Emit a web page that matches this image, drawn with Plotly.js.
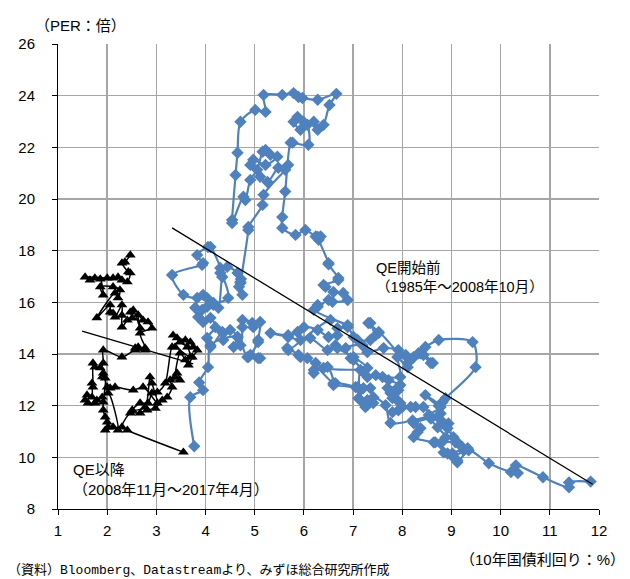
<!DOCTYPE html>
<html>
<head>
<meta charset="utf-8">
<script src="https://cdn.plot.ly/plotly-3.0.1.min.js"></script>
<style>html,body{margin:0;padding:0;background:#fff;}#chart{width:630px;height:579px;}</style>
</head>
<body>
<div id="chart"></div>
<script>
// QE開始前 (1985年～2008年10月): 10年国債利回り(%) and PER(倍)
var preQEYield = [
11.83,11.39,11.39,10.86,10.31,10.35,10.21,9.76,9.35,9.12,9.04,9.25,9.08,8.67,8.88,8.72,8.58,8.78,8.21,7.76,7.66,7.41,7.29,7.25,7.11,7.15,7.05,6.64,6.60,7.09,7.21,7.35,7.41,7.29,7.15,
7.15,7.21,7.29,7.01,6.95,6.85,7.19,7.29,7.62,7.92,8.07,8.21,8.33,8.47,8.74,9.43,9.49,8.88,
8.82,8.74,8.47,8.78,8.54,8.72,8.84,8.94,8.92,9.04,9.12,9.22,9.33,9.02,9.12,8.92,8.84,8.78,8.64,8.23,8.31,8.37,8.23,8.58,8.43,8.27,8.00,8.17,7.92,7.80,7.96,7.90,7.80,7.92,7.76,7.82,7.70,7.92,7.96,7.72,
7.60,7.46,7.96,7.90,8.11,8.23,8.37,8.58,8.62,8.43,8.13,7.52,7.46,7.35,7.31,7.52,7.35,7.09,7.01,6.89,6.68,6.68,6.50,6.28,6.00,5.87,5.68,5.32,5.68,5.93,6.13,6.48,6.64,6.68,7.01,7.29,
6.40,6.24,6.20,6.20,6.48,6.60,6.07,5.93,5.89,5.66,5.68,
6.54,6.89,6.20,6.28,6.28,6.50,6.58,6.89,6.80,6.60,6.44,6.40,6.70,6.70,6.50,6.50,6.30,6.28,6.34,6.24,6.03,5.83,5.56,5.56,5.62,5.73,
5.77,6.09,6.07,5.87,5.79,5.93,5.99,6.20,6.28,6.40,6.52,6.66,6.28,5.97,5.89,5.79,5.56,5.18,5.22,5.01,4.71,4.65,4.61,4.54,4.54,
4.77,4.81,4.91,5.05,5.16,5.22,5.32,5.46,5.22,4.97,4.91,5.11,5.26,5.48,5.68,5.62,5.18,5.16,4.87,4.87,
4.71,4.72,4.68,4.75,4.71,4.65,4.44,4.30,4.30,4.10,4.05,3.83,3.95,3.93,3.32,3.55,3.83,3.95,4.03,4.16,4.46,4.34,4.26,4.16,4.03,3.93,3.79,3.85,3.95,4.10,4.20,4.03,4.10,
4.34,4.36,4.36,4.50,4.65,4.57,4.71,4.75,4.75,4.95,4.97,5.11,5.07,5.07,4.91,4.87,5.07,5.11,4.85,4.65,
4.10,4.05,3.87,3.95,3.69,3.77
];
var preQEPER = [
9.06,9.03,8.84,9.23,9.69,9.39,9.43,9.77,10.27,9.81,10.00,10.27,10.58,10.58,10.77,11.16,11.50,11.70,11.43,11.33,12.02,12.33,12.02,11.95,12.29,12.60,12.72,12.87,12.80,12.72,12.68,12.68,12.10,12.21,12.21,
13.38,13.30,13.11,13.77,13.84,14.23,14.34,14.07,14.23,14.15,13.96,13.84,14.03,14.27,14.54,14.46,13.49,12.29,
12.14,12.00,12.41,11.95,11.64,11.56,11.33,11.31,11.13,10.78,10.58,10.39,10.35,10.15,9.88,10.15,10.19,10.54,10.58,10.78,10.97,11.13,11.33,11.56,11.95,11.95,11.95,11.95,11.82,11.75,12.10,12.21,12.29,12.60,12.49,12.52,12.68,12.72,12.80,12.99,
13.11,13.18,13.11,13.88,13.49,13.88,14.03,13.65,13.65,13.96,13.69,14.85,14.73,15.20,15.20,14.81,14.54,14.54,14.66,15.04,15.00,14.73,14.66,14.93,15.04,14.85,14.73,14.81,14.66,14.54,14.62,14.15,14.34,14.23,13.88,13.46,
13.46,13.65,13.26,13.38,13.50,12.87,13.84,13.88,13.96,14.23,14.15,
15.32,15.12,15.71,15.90,15.83,16.09,16.02,16.09,16.36,16.40,16.60,16.67,16.86,16.94,17.47,17.52,18.42,18.53,18.55,18.55,18.80,18.61,18.88,19.30,20.29,22.18,
22.18,22.10,22.87,23.18,22.99,22.68,22.99,22.99,22.68,22.87,23.64,24.07,23.84,23.91,23.95,24.10,24.03,24.03,23.37,23.45,22.99,21.79,20.93,19.19,19.07,
20.09,19.96,20.74,21.13,21.83,21.90,21.71,21.64,21.32,21.52,21.32,20.86,20.66,21.21,21.32,21.13,20.16,19.77,18.92,18.80,
16.75,16.90,16.60,16.29,16.79,17.14,17.37,17.14,17.33,18.14,18.14,17.83,17.52,17.45,17.06,16.29,16.17,16.29,16.17,15.98,16.17,16.98,15.79,15.90,15.83,15.71,15.79,15.43,15.24,15.40,15.04,14.62,14.27,
14.85,14.54,14.81,14.93,14.66,14.27,14.34,15.04,15.32,15.20,15.04,15.24,14.54,14.46,13.96,13.88,13.84,13.84,13.88,14.66,
14.34,13.49,12.90,12.60,12.33,10.43
];

// QE以降 (2008年11月～2017年4月)
var postQEYield = [3.55,2.41,2.30,2.47,2.67,2.81,2.98,3.12,3.22,3.32,3.28,3.48,3.42,3.38,3.48,3.59,3.65,3.73,3.83,3.75,3.69,3.59,3.42,3.34,3.48,3.63,3.69,3.38,3.32,3.18,3.02,2.91,2.83,2.67,2.51,2.77,2.87,2.91,3.02,2.73,2.53,2.16,2.06,2.00,1.92,1.90,1.96,1.92,1.92,1.96,2.00,2.02,1.96,2.12,2.22,2.02,1.90,1.79,1.75,1.61,1.55,1.59,1.69,1.69,1.71,1.71,1.75,1.86,1.92,1.92,2.30,2.57,2.77,2.57,2.63,2.77,2.67,2.91,2.83,2.73,2.63,2.67,2.53,2.47,2.51,2.41,2.30,2.30,2.30,2.16,2.12,2.06,2.06,1.79,2.16,2.22,2.26,2.12,1.86,1.92,1.86,1.75,1.65,1.55,2.00,2.12,2.22,2.30,2.41,2.47,2.43,2.30,2.36,2.47];
var postQEPER = [10.20,11.05,11.17,11.71,11.71,11.83,11.90,12.21,12.33,12.72,12.99,12.99,13.26,13.11,14.03,13.77,13.57,13.88,14.15,14.27,14.46,14.54,14.62,14.73,14.46,14.27,13.88,14.27,14.27,12.87,12.52,12.49,12.10,12.10,11.83,11.94,13.11,12.87,12.10,12.72,12.60,12.72,12.68,12.72,13.26,13.11,13.07,12.14,11.83,11.56,11.36,11.17,11.05,11.17,11.05,12.49,12.33,12.21,12.10,12.10,12.21,12.41,12.33,12.87,12.72,13.65,13.49,13.46,13.65,14.15,13.88,14.15,14.15,14.23,14.27,14.23,14.81,15.00,15.24,15.31,15.51,15.00,15.70,15.62,15.39,15.31,15.04,15.50,15.90,15.43,15.58,15.62,15.90,15.40,16.36,16.17,16.48,16.60,16.60,16.28,16.90,16.94,16.86,16.98,16.94,16.94,16.98,16.86,16.79,17.14,17.18,17.52,17.56,17.83];

// trend lines
var preTrendX = [3.32, 11.87];
var preTrendY = [18.88, 8.96];
var postTrendX = [1.49, 3.75];
var postTrendY = [14.89, 13.62];

var xTicks = [1,2,3,4,5,6,7,8,9,10,11,12];
var yTicks = [8,10,12,14,16,18,20,22,24,26];

var labelPre = "QE開始前<br>（1985年～2008年10月）";
var labelPost = "QE以降<br>（2008年11月～2017年4月）";
var yTitle = "（PER：倍）";
var xTitle = "（10年国債利回り：%）";
var source = "（資料）Bloomberg、Datastreamより、みずほ総合研究所作成";

var FONT = "Liberation Sans, Noto Sans CJK JP, sans-serif";
var BLUE = "#4F81BD";

var traces = [
  {x: preQEYield, y: preQEPER, type: "scatter", mode: "lines+markers",
   line: {color: BLUE, width: 2.2, shape: "spline", smoothing: 0.8},
   marker: {symbol: "diamond", size: 9.5, color: BLUE}, hoverinfo: "skip"},
  {x: postQEYield, y: postQEPER, type: "scatter", mode: "lines+markers",
   line: {color: "#000", width: 1.5, shape: "spline", smoothing: 0.8},
   marker: {symbol: "triangle-up", size: 9.5, color: "#000"}, hoverinfo: "skip"},
  {x: preTrendX, y: preTrendY, type: "scatter", mode: "lines",
   line: {color: "#000", width: 1.3}, hoverinfo: "skip"},
  {x: postTrendX, y: postTrendY, type: "scatter", mode: "lines",
   line: {color: "#000", width: 1.3}, hoverinfo: "skip"}
];

var W = 630, H = 579, L = 58, R = 31, T = 44, B = 70;
function px(x){ return (x - L) / (W - L - R); }
function py(y){ return (H - B - y) / (H - T - B); }

var layout = {
  width: W, height: H,
  margin: {l: L, r: R, t: T, b: B, pad: 0},
  paper_bgcolor: "#fff", plot_bgcolor: "#fff",
  showlegend: false,
  font: {family: FONT, size: 15, color: "#000"},
  xaxis: {
    range: [1, 12], tickvals: xTicks, ticktext: xTicks.map(String),
    showgrid: true, gridcolor: "#a6a6a6", gridwidth: 1.5,
    zeroline: false, showline: true, linecolor: "#000", linewidth: 1,
    ticks: "outside", ticklen: 5, tickcolor: "#000", tickwidth: 1,
    ticklabelstandoff: 3,
    tickfont: {family: FONT, size: 15, color: "#000"}
  },
  yaxis: {
    range: [8, 26], tickvals: yTicks, ticktext: yTicks.map(String),
    showgrid: true, gridcolor: "#a6a6a6", gridwidth: 1.5,
    zeroline: false, showline: true, linecolor: "#000", linewidth: 1,
    ticks: "outside", ticklen: 5, tickcolor: "#000", tickwidth: 1,
    ticklabelstandoff: 14,
    tickfont: {family: FONT, size: 15, color: "#000"}
  },
  annotations: [
    {text: labelPre, xref: "paper", yref: "paper", x: px(374), y: py(277.5),
     xanchor: "left", yanchor: "middle", align: "left", showarrow: false,
     font: {family: FONT, size: 14.5, color: "#000"}},
    {text: labelPost, xref: "paper", yref: "paper", x: px(71), y: py(479.5),
     xanchor: "left", yanchor: "middle", align: "left", showarrow: false,
     font: {family: FONT, size: 15, color: "#000"}},
    {text: yTitle, xref: "paper", yref: "paper", x: px(33), y: py(25),
     xanchor: "left", yanchor: "middle", align: "left", showarrow: false,
     font: {family: FONT, size: 15, color: "#000"}},
    {text: xTitle, xref: "paper", yref: "paper", x: px(627), y: py(559),
     xanchor: "right", yanchor: "middle", align: "right", showarrow: false,
     font: {family: FONT, size: 15, color: "#000"}},
    {text: source, xref: "paper", yref: "paper", x: px(6), y: py(570),
     xanchor: "left", yanchor: "middle", align: "left", showarrow: false,
     font: {family: "Liberation Mono, Noto Sans CJK JP, monospace", size: 13, color: "#000"}}
  ]
};

Plotly.newPlot("chart", traces, layout, {staticPlot: true, displayModeBar: false});
</script>
</body>
</html>
